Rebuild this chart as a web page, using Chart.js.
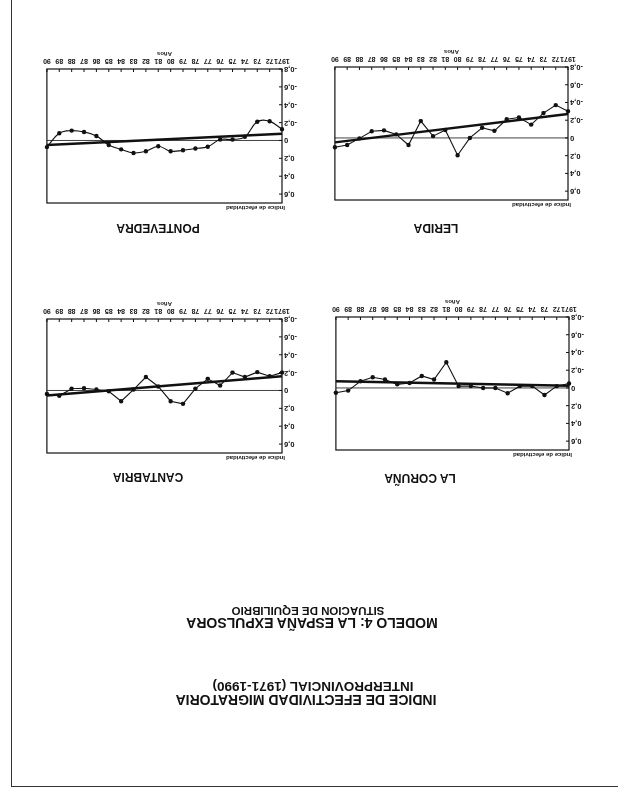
<!DOCTYPE html>
<html>
<head>
<meta charset="utf-8">
<script src="https://cdn.jsdelivr.net/npm/chart.js@4.4.1/dist/chart.umd.min.js"></script>
<style>
html, body { margin: 0; padding: 0; background: #fff; }
#page {
    position: relative; width: 618px; height: 797px; overflow: hidden;
    transform: rotate(180deg);
    font-family: "Liberation Sans", Arial, sans-serif; color: #111;
}
.t { position: absolute; font-weight: bold; white-space: nowrap; transform: translateX(-50%); line-height: 1; }
canvas { position: absolute; }
.line { position: absolute; background: #333; }
</style>
</head>
<body>
<div id="page">
    <div class="line" style="left:0;top:10px;width:606px;height:1px"></div>
    <div class="line" style="left:606px;top:10px;width:1px;height:787px"></div>

    <div class="t" style="left:312px;top:90px;font-size:14px">INDICE DE EFECTIVIDAD MIGRATORIA</div>
    <div class="t" style="left:305px;top:104px;font-size:13.5px">INTERPROVINCIAL (1971-1990)</div>
    <div class="t" style="left:306px;top:167px;font-size:14px">MODELO 4: LA ESPAÑA EXPULSORA</div>
    <div class="t" style="left:310px;top:181px;font-size:11.5px">SITUACION DE EQUILIBRIO</div>

    <div class="t" style="left:198px;top:313px;font-size:12px">LA CORUÑA</div>
    <div class="t" style="left:470px;top:314px;font-size:12px">CANTABRIA</div>
    <div class="t" style="left:182px;top:563px;font-size:12px">LERIDA</div>
    <div class="t" style="left:460px;top:563px;font-size:12px">PONTEVEDRA</div>

    <canvas id="coruna"></canvas>
    <canvas id="cantabria"></canvas>
    <canvas id="lerida"></canvas>
    <canvas id="pontevedra"></canvas>
</div>

<script>
const years = ['1971', '72', '73', '74', '75', '76', '77', '78', '79', '80',
               '81', '82', '83', '84', '85', '86', '87', '88', '89', '90'];
const yTicks = [0.6, 0.4, 0.2, 0, -0.2, -0.4, -0.6, -0.8];

const coruna = [-0.05, -0.02, 0.08, -0.02, -0.02, 0.06, 0, 0, -0.02, -0.02,
                -0.29, -0.095, -0.135, -0.055, -0.04, -0.095, -0.12, -0.075, 0.03, 0.055];
const cantabria = [-0.2, -0.16, -0.205, -0.15, -0.2, -0.055, -0.13, -0.02, 0.15, 0.12,
                   -0.045, -0.15, -0.01, 0.12, 0.01, -0.01, -0.025, -0.02, 0.06, 0.04];
const lerida = [-0.3, -0.37, -0.28, -0.15, -0.23, -0.21, -0.08, -0.115, 0, 0.195,
                -0.09, -0.02, -0.19, 0.08, -0.04, -0.085, -0.075, 0.005, 0.08, 0.105];
const pontevedra = [-0.125, -0.215, -0.21, -0.04, -0.01, -0.01, 0.07, 0.09, 0.11, 0.12,
                    0.065, 0.12, 0.14, 0.1, 0.05, -0.05, -0.095, -0.11, -0.08, 0.075];

// regression line, value at 1971 and at 1990
const corunaTrend = [-0.026, -0.075];
const cantabriaTrend = [-0.16, 0.057];
const leridaTrend = [-0.27, 0.05];
const pontevedraTrend = [-0.075, 0.05];

const Y_W = 19, X_H = 20, PAD_T = 12, PAD_R = 4;
const INK = '#111';
const FONT = '"Liberation Sans", Arial, sans-serif';

const frame = {
    id: 'frame',
    beforeDatasetsDraw(chart) {
        const a = chart.chartArea, ctx = chart.ctx;
        const x = chart.scales.x, y = chart.scales.y;
        ctx.save();
        ctx.strokeStyle = INK;
        ctx.lineWidth = 1.2;
        ctx.strokeRect(a.left, a.top, a.right - a.left, a.bottom - a.top);
        // zero line
        ctx.lineWidth = 0.8;
        ctx.beginPath();
        ctx.moveTo(a.left, y.getPixelForValue(0));
        ctx.lineTo(a.right, y.getPixelForValue(0));
        ctx.stroke();
        // inner tick marks
        ctx.lineWidth = 1;
        ctx.beginPath();
        years.forEach((l, i) => {
            const px = x.getPixelForValue(i);
            ctx.moveTo(px, a.bottom);
            ctx.lineTo(px, a.bottom - 3);
        });
        yTicks.forEach(v => {
            const py = y.getPixelForValue(v);
            ctx.moveTo(a.left, py);
            ctx.lineTo(a.left + 3, py);
        });
        ctx.stroke();
        // caption
        ctx.fillStyle = INK;
        ctx.font = 'bold 6px ' + FONT;
        ctx.textBaseline = 'bottom';
        ctx.fillText('Indice de efectividad', a.left - 3, a.top - 2);
        ctx.restore();
    }
};

function trendData(t) {
    return years.map((l, i) => i === 0 ? t[0] : (i === years.length - 1 ? t[1] : null));
}

function makeChart(id, values, trend, box, tension) {
    const cv = document.getElementById(id);
    cv.width = Y_W + box.w + PAD_R;
    cv.height = PAD_T + box.h + X_H;
    cv.style.left = (box.x - Y_W) + 'px';
    cv.style.top = (box.y - PAD_T) + 'px';

    new Chart(cv, {
        type: 'line',
        data: {
            labels: years,
            datasets: [{
                data: values,
                borderColor: INK,
                borderWidth: 1.1,
                pointRadius: 2.2,
                pointBackgroundColor: INK,
                pointBorderWidth: 0,
                tension: tension,
                clip: false
            }, {
                data: trendData(trend),
                borderColor: INK,
                borderWidth: 2.5,
                pointRadius: 0,
                spanGaps: true,
                clip: false
            }]
        },
        options: {
            responsive: false,
            animation: false,
            devicePixelRatio: 1,
            layout: { padding: { top: PAD_T, right: PAD_R, left: 0, bottom: 0 } },
            plugins: { legend: { display: false }, tooltip: { enabled: false } },
            scales: {
                x: {
                    offset: false,
                    grid: { display: false, drawTicks: false },
                    border: { display: false },
                    ticks: {
                        autoSkip: false, maxRotation: 0, minRotation: 0, padding: 4,
                        color: INK, font: { size: 7, weight: 'bold', family: FONT }
                    },
                    title: {
                        display: true, text: 'Años', color: INK, padding: { top: 1, bottom: 1 },
                        font: { size: 6, weight: 'bold', family: FONT }
                    },
                    afterFit(s) { s.height = X_H; }
                },
                y: {
                    min: -0.8,
                    max: 0.7,
                    grid: { display: false, drawTicks: false },
                    border: { display: false },
                    afterBuildTicks(s) { s.ticks = yTicks.map(v => ({ value: v })); },
                    ticks: {
                        padding: 2, color: INK,
                        font: { size: 7.5, weight: 'bold', family: FONT },
                        callback: v => v === 0 ? '0' : v.toFixed(1).replace('.', ',')
                    },
                    afterFit(s) { s.width = Y_W; }
                }
            }
        },
        plugins: [frame]
    });
}

makeChart('coruna', coruna, corunaTrend, { x: 49, y: 347, w: 237, h: 133 }, 0);
makeChart('cantabria', cantabria, cantabriaTrend, { x: 336, y: 344, w: 239, h: 134 }, 0);
makeChart('lerida', lerida, leridaTrend, { x: 50, y: 597, w: 237, h: 133 }, 0);
makeChart('pontevedra', pontevedra, pontevedraTrend, { x: 336, y: 594, w: 239, h: 134 }, 0.4);
</script>
</body>
</html>
